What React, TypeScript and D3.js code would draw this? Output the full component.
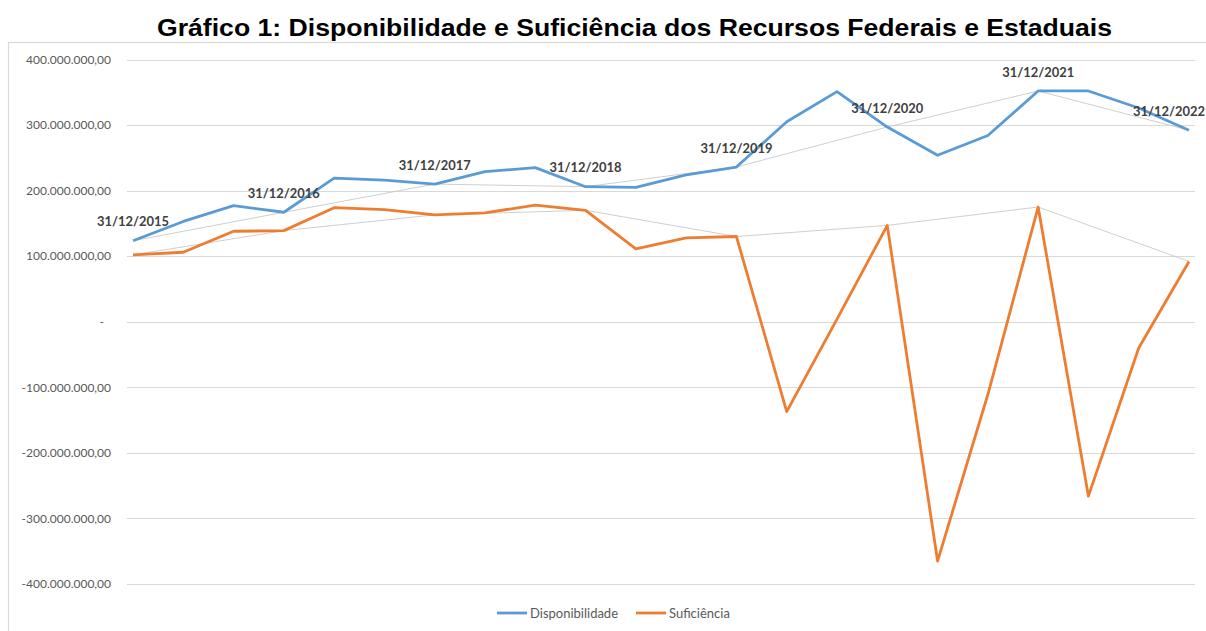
import React, { useEffect, useRef } from 'react';
import * as d3 from 'd3';

// 22 observations, every four months; data labels only at year end
const periods = [
  '31/12/2015', '30/04/2016', '31/08/2016', '31/12/2016',
  '30/04/2017', '31/08/2017', '31/12/2017', '30/04/2018',
  '31/08/2018', '31/12/2018', '30/04/2019', '31/08/2019',
  '31/12/2019', '30/04/2020', '31/08/2020', '31/12/2020',
  '30/04/2021', '31/08/2021', '31/12/2021', '30/04/2022',
  '31/08/2022', '31/12/2022',
];
const yearEndLabels = [
  '31/12/2015', '31/12/2016', '31/12/2017', '31/12/2018',
  '31/12/2019', '31/12/2020', '31/12/2021', '31/12/2022',
];

// values in R$ (millions)
const disponibilidade = [
  123.5, 153, 177, 167, 219, 216, 210, 229, 235, 206, 205, 224,
  236, 305, 351, 297, 254, 284, 352, 352, 326, 292,
].map((v) => v * 1e6);
const suficiencia = [
  102, 106, 138, 139, 174, 171, 163, 166, 178, 170, 111, 128,
  130, -137, 4, 147, -365, -111, 175, -266, -40, 92,
].map((v) => v * 1e6);

const yTicks = [400, 300, 200, 100, 0, -100, -200, -300, -400].map((v) => v * 1e6);

const seriesNames = ['Disponibilidade', 'Suficiência'];
const seriesColors = ['#5B9BD5', '#ED7D31'];

const W = 1206;
const H = 631;

const locale = d3.formatLocale({
  decimal: ',',
  thousands: '.',
  grouping: [3],
  currency: ['', ''],
  minus: '-',
});
const fmt = locale.format(',.2f');

const App: React.FC = () => {
  const svgRef = useRef<SVGSVGElement>(null);

  useEffect(() => {
    if (!svgRef.current) return;
    const svg = d3.select(svgRef.current);
    svg.selectAll('*').remove();

    const x = d3.scalePoint<string>().domain(periods).range([133, 1189]);
    const y = d3.scaleLinear().domain([-400e6, 400e6]).range([584, 59.5]);

    // chart area border (runs off the right and bottom of the picture)
    svg
      .append('rect')
      .attr('x', 8.5)
      .attr('y', 42.5)
      .attr('width', 1300)
      .attr('height', 700)
      .attr('fill', '#fff')
      .attr('stroke', '#d9d9d9')
      .attr('stroke-width', 1.2);

    // title
    svg
      .append('text')
      .attr('x', 634.5)
      .attr('y', 36)
      .attr('text-anchor', 'middle')
      .attr('textLength', 955)
      .attr('lengthAdjust', 'spacingAndGlyphs')
      .style('font-family', "'Liberation Sans', Arial, sans-serif")
      .style('font-weight', '700')
      .style('font-size', '23.5px')
      .style('fill', '#000')
      .text('Gráfico 1: Disponibilidade e Suficiência dos Recursos Federais e Estaduais');

    // gridlines + y labels
    const grid = svg.append('g');
    grid
      .selectAll('line')
      .data(yTicks)
      .enter()
      .append('line')
      .attr('x1', 127)
      .attr('x2', 1195)
      .attr('y1', (d) => Math.round(y(d)) + 0.5)
      .attr('y2', (d) => Math.round(y(d)) + 0.5)
      .attr('stroke', '#d9d9d9')
      .attr('stroke-width', 1);

    grid
      .selectAll('text')
      .data(yTicks)
      .enter()
      .append('text')
      .attr('x', (d) => (d === 0 ? 104 : 111))
      .attr('y', (d) => y(d))
      .attr('dy', '0.35em')
      .attr('text-anchor', 'end')
      .style('font-family', "Lato, 'Open Sans', sans-serif")
      .style('font-size', '12px')
      .style('fill', '#595959')
      .text((d) => (d === 0 ? '-' : fmt(d)));

    const allSeries = [disponibilidade, suficiencia];

    // thin gray lines linking the year-end points
    const yearEndIdx = periods.map((p, i) => i).filter((i) => yearEndLabels.includes(periods[i]));
    allSeries.forEach((vals) => {
      const ln = d3
        .line<number>()
        .x((i) => x(periods[i]) || 0)
        .y((i) => y(vals[i]));
      svg
        .append('path')
        .attr('d', ln(yearEndIdx) || '')
        .attr('fill', 'none')
        .attr('stroke', '#c9c9c9')
        .attr('stroke-width', 0.9);
    });

    // main series
    allSeries.forEach((vals, s) => {
      const ln = d3
        .line<number>()
        .x((d, i) => x(periods[i]) || 0)
        .y((d) => y(d));
      svg
        .append('path')
        .attr('d', ln(vals) || '')
        .attr('fill', 'none')
        .attr('stroke', seriesColors[s])
        .attr('stroke-width', 2.8)
        .attr('stroke-linejoin', 'round');
    });

    // data labels above the Disponibilidade year-end points
    const lastIdx = periods.length - 1;
    svg
      .append('g')
      .selectAll('text')
      .data(yearEndIdx)
      .enter()
      .append('text')
      .attr('x', (i) => (i === lastIdx ? W - 1 : x(periods[i]) || 0))
      .attr('y', (i) => y(disponibilidade[i]) - 19)
      .attr('dy', '0.35em')
      .attr('text-anchor', (i) => (i === lastIdx ? 'end' : 'middle'))
      .attr('textLength', 72)
      .attr('lengthAdjust', 'spacingAndGlyphs')
      .style('font-family', "Lato, 'Open Sans', sans-serif")
      .style('font-weight', '700')
      .style('font-size', '13px')
      .style('fill', '#404040')
      .text((i) => periods[i]);

    // legend
    const legendX = [497, 636];
    const legend = svg.append('g');
    seriesNames.forEach((name, s) => {
      legend
        .append('line')
        .attr('x1', legendX[s])
        .attr('x2', legendX[s] + 30)
        .attr('y1', 613)
        .attr('y2', 613)
        .attr('stroke', seriesColors[s])
        .attr('stroke-width', 2.8);
      legend
        .append('text')
        .attr('x', legendX[s] + 33)
        .attr('y', 613)
        .attr('dy', '0.35em')
        .style('font-family', "Lato, 'Open Sans', sans-serif")
        .style('font-size', '13px')
        .style('fill', '#595959')
        .text(name);
    });
  }, []);

  return (
    <svg
      ref={svgRef}
      width={W}
      height={H}
      style={{ position: 'absolute', left: 0, top: 0, background: '#fff' }}
    />
  );
};

export default App;
